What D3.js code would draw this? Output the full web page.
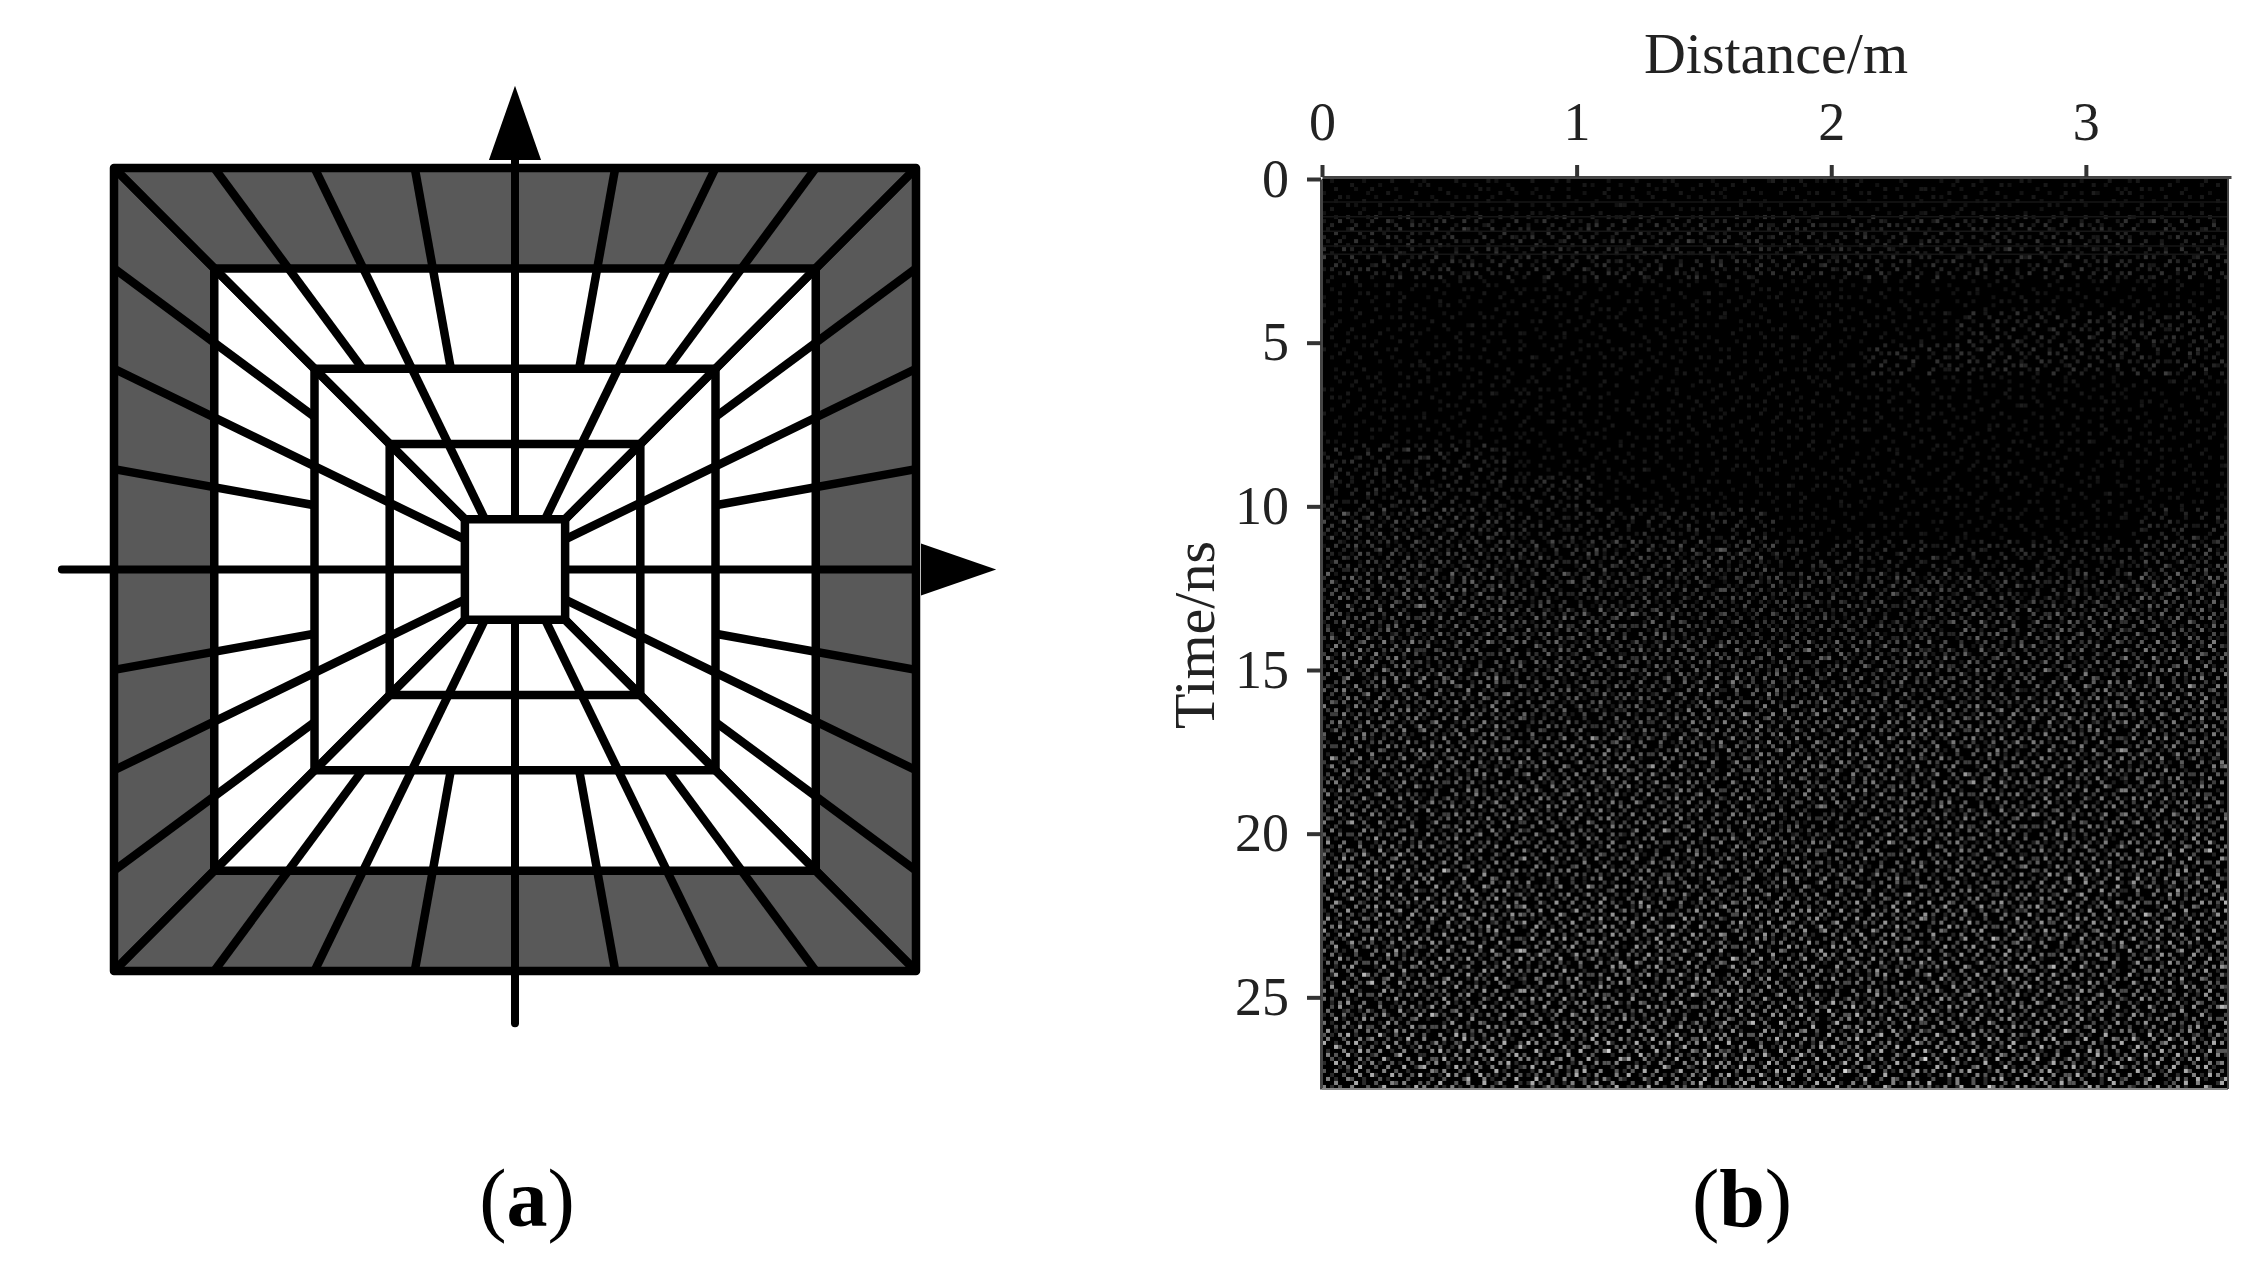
<!DOCTYPE html>
<html>
<head>
<meta charset="utf-8">
<script src="https://cdn.jsdelivr.net/npm/d3@7"></script>
<style>
	body { margin: 0; background: #fff; }
	svg { display: block; }
	text { font-family: "Liberation Serif", serif; }
</style>
</head>
<body>
<div id="svgElement"></div>
<script>
//Panel (a): survey layout in grid units, 4 units is half of the outer square
var ringSizes = [3, 2, 1.25];
var centerSize = 0.5;
var outerSize = 4;
var spokeOuter = [-4, -3, -2, -1, 1, 2, 3, 4];
var spokeInner = [-0.5, -1.52, -0.3, -0.64, 0.64, 0.3, 1.52, 0.5];
var spokeEnd = [0.5, 2, 0.5, 2, 2, 0.5, 2, 0.5];

//Panel (b): axes of the radargram
var distanceTicks = [0, 1, 2, 3];
var timeTicks = [0, 5, 10, 15, 20, 25];
var distanceMax = 3.57;
var timeMax = 27.8;

//Panel (b): speckle strength, one row per ns, one digit per 10th of the width
var speckleLevels = [
	"1111111111",
	"2222222222",
	"2222222222",
	"1111111111",
	"1111111222",
	"1111112222",
	"1111111111",
	"1111111111",
	"2211111111",
	"2221111111",
	"3322211112",
	"3333322223",
	"4433333334",
	"4444333444",
	"5444444445",
	"5544544455",
	"5544555555",
	"5555555555",
	"5555555555",
	"5555545555",
	"6555555556",
	"6655555566",
	"6666666666",
	"6666666666",
	"6666666666",
	"6666676666",
	"7777777777",
	"7777777777"
];

//Panel (b): faint horizontal streaks near the top, time in ns
var streakTimes = [0.7, 1.15, 1.6, 2.05, 2.3];

//Panel (b): a patch of speckle, brightness 0-5
var specklePatch = [
	"0030010200301002040010300",
	"1002000401020030001200103",
	"0204100030004102003010020",
	"3000020100230000401002040",
	"0010403002000301000300100",
	"2003000100402000203010402",
	"0200104030010040100002003",
	"0041002000300201030401000",
	"3000200104000030002000302",
	"0102003001020400100304010",
	"2000400200103000420000200",
	"0030010030020010003010403",
	"1200002400001030200401000",
	"0004100003004002010000302",
	"3010020100200100403002010",
	"0200300040013000010200400",
	"0003002001000200300104002",
	"4100040300204001002000300",
	"0020100002000030100320010",
	"5003000410030102004000203",
	"0100200030100004000102000",
	"0004030100002300200040100",
	"2030000203040000103000302",
	"0100204000100302000201000",
	"0020001030002001030400030"
];
var patchShifts = [0, 7, 13, 4, 19, 11, 2, 16, 9, 22];

var svg = d3.select("#svgElement").append("svg").attr("width", 2254).attr("height", 1275);

//Panel (a)
var gx = d3.scaleLinear().domain([-4, 4]).range([114, 916]);
var gy = d3.scaleLinear().domain([-4, 4]).range([168, 971]);

function drawSquare(size, fill) {
	svg.append("rect")
		.attr("x", gx(-size)).attr("y", gy(-size))
		.attr("width", gx(size) - gx(-size)).attr("height", gy(size) - gy(-size))
		.attr("fill", fill).attr("stroke", "#000").attr("stroke-width", 8.5)
		.attr("stroke-linejoin", "round");
}

drawSquare(outerSize, "#595959");
drawSquare(ringSizes[0], "#fff");

//Every spoke runs from the outer square inwards, once per side
var spokes = [];
spokeOuter.forEach(function (u, i) {
	var a = {u: u, v: outerSize, iu: spokeInner[i], iv: spokeEnd[i]};
	spokes.push({x1: a.u, y1: -a.v, x2: a.iu, y2: -a.iv});
	spokes.push({x1: a.u, y1: a.v, x2: a.iu, y2: a.iv});
	spokes.push({x1: -a.v, y1: a.u, x2: -a.iv, y2: a.iu});
	spokes.push({x1: a.v, y1: a.u, x2: a.iv, y2: a.iu});
});

svg.selectAll("line.spoke").data(spokes).enter().append("line")
	.attr("class", "spoke")
	.attr("x1", function (d) { return gx(d.x1); })
	.attr("y1", function (d) { return gy(d.y1); })
	.attr("x2", function (d) { return gx(d.x2); })
	.attr("y2", function (d) { return gy(d.y2); })
	.attr("stroke", "#000").attr("stroke-width", 8.5);

//The two survey axes
svg.append("line").attr("x1", gx(-4.52)).attr("y1", gy(0)).attr("x2", gx(4)).attr("y2", gy(0))
	.attr("stroke", "#000").attr("stroke-width", 8).attr("stroke-linecap", "round");
svg.append("line").attr("x1", gx(0)).attr("y1", gy(4.52)).attr("x2", gx(0)).attr("y2", gy(-4.08))
	.attr("stroke", "#000").attr("stroke-width", 8).attr("stroke-linecap", "round");

ringSizes.slice(1).forEach(function (r) {
	drawSquare(r, "none");
});
drawSquare(centerSize, "#fff");

svg.append("path")
	.attr("d", d3.line()([[gx(4.05), gy(-0.26)], [gx(4.8), gy(0)], [gx(4.05), gy(0.26)]]) + "Z")
	.attr("fill", "#000");
svg.append("path")
	.attr("d", d3.line()([[gx(-0.26), gy(-4.08)], [gx(0), gy(-4.82)], [gx(0.26), gy(-4.08)]]) + "Z")
	.attr("fill", "#000");

//Panel (b)
var x = d3.scaleLinear().domain([0, distanceMax]).range([1322, 2231]);
var y = d3.scaleLinear().domain([0, timeMax]).range([179, 1089]);

svg.append("rect")
	.attr("x", x(0)).attr("y", y(0)).attr("width", x(distanceMax) - x(0) - 3).attr("height", y(timeMax) - y(0))
	.attr("fill", "#000");

var patchSize = specklePatch.length;
var colCount = Math.floor((x(distanceMax) - x(0) - 3) / 4);
var rowCount = Math.floor((y(timeMax) - y(0)) / 4);
var colBand = d3.scaleBand().domain(d3.range(colCount)).range([x(0), x(distanceMax) - 3]);
var rowBand = d3.scaleBand().domain(d3.range(rowCount)).range([y(0), y(timeMax)]);
var gray = d3.scaleLinear().domain([0, 42]).range(["#000", "#fff"]).clamp(true);

var speckles = [];
for (var r = 0; r < rowCount; r++) {
	var time = y.invert(rowBand(r));
	var levelRow = speckleLevels[Math.min(Math.floor(time), speckleLevels.length - 1)];
	var rowBlock = Math.floor(r / patchSize);
	for (var c = 0; c < colCount; c++) {
		var level = +levelRow[Math.floor(c / colCount * 10)];
		var colBlock = Math.floor(c / patchSize);
		var shift = patchShifts[(colBlock + rowBlock * 3) % patchShifts.length];
		//Mirror the patch from block to block so the repeat does not show as a grid
		var pr = (r + shift) % patchSize;
		var pc = (c + shift * 2) % patchSize;
		if ((colBlock + rowBlock) % 2) pc = patchSize - 1 - pc;
		if (rowBlock % 2) pr = patchSize - 1 - pr;
		var v = +specklePatch[pr][pc] * level;
		if (v >= 3) speckles.push({c: c, r: r, v: v});
	}
}

svg.append("g").selectAll("rect").data(speckles).enter().append("rect")
	.attr("x", function (d) { return colBand(d.c); })
	.attr("y", function (d) { return rowBand(d.r); })
	.attr("width", colBand.bandwidth())
	.attr("height", rowBand.bandwidth())
	.attr("fill", function (d) { return gray(d.v); });

svg.append("g").selectAll("line").data(streakTimes).enter().append("line")
	.attr("x1", x(0)).attr("x2", x(distanceMax) - 3)
	.attr("y1", function (d) { return y(d); })
	.attr("y2", function (d) { return y(d); })
	.attr("stroke", "#161616").attr("stroke-width", 1.5);

var xAxis = d3.axisTop(x).tickValues(distanceTicks).tickFormat(d3.format("d")).tickSize(12).tickSizeOuter(0).tickPadding(25);
var yAxis = d3.axisLeft(y).tickValues(timeTicks).tickFormat(d3.format("d")).tickSize(14).tickSizeOuter(0).tickPadding(18);

var xG = svg.append("g").attr("transform", "translate(0," + (y(0) - 2) + ")").call(xAxis);
var yG = svg.append("g").attr("transform", "translate(" + (x(0) - 1) + ",0)").call(yAxis);

[xG, yG].forEach(function (g) {
	g.selectAll("path").attr("stroke", "#444").attr("stroke-width", 3);
	g.selectAll("line").attr("stroke", "#333").attr("stroke-width", 4);
	g.selectAll("text")
		.attr("font-family", "Liberation Serif").attr("font-size", 54).attr("fill", "#222");
});

svg.append("line").attr("x1", x(0)).attr("x2", x(distanceMax) - 3).attr("y1", y(timeMax)).attr("y2", y(timeMax))
	.attr("stroke", "#888").attr("stroke-width", 2);
svg.append("line").attr("x1", x(distanceMax) - 3).attr("x2", x(distanceMax) - 3).attr("y1", y(0)).attr("y2", y(timeMax))
	.attr("stroke", "#444").attr("stroke-width", 2);

svg.append("text").text("Distance/m")
	.attr("x", 1776).attr("y", 73).attr("text-anchor", "middle")
	.attr("font-size", 58).attr("fill", "#222");
svg.append("text").text("Time/ns")
	.attr("transform", "translate(1214,635) rotate(-90)").attr("text-anchor", "middle")
	.attr("font-size", 58).attr("fill", "#222");

//Captions, letter in bold between plain brackets
function caption(letter, cx) {
	var t = svg.append("text").attr("x", cx).attr("y", 1226).attr("text-anchor", "middle")
		.attr("font-size", 82).attr("fill", "#000");
	t.append("tspan").text("(");
	t.append("tspan").text(letter).attr("font-weight", "bold");
	t.append("tspan").text(")");
}
caption("a", 527);
caption("b", 1742);
</script>
</body>
</html>
